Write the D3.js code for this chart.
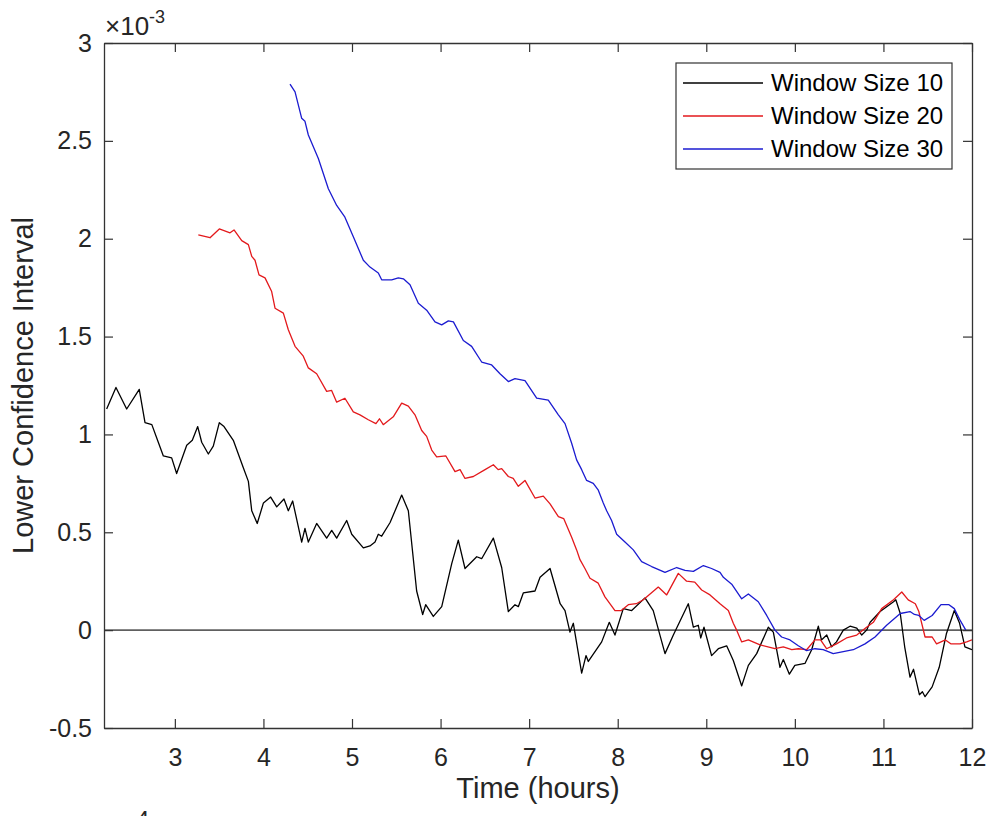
<!DOCTYPE html>
<html>
<head>
<meta charset="utf-8">
<script src="https://cdn.jsdelivr.net/npm/d3@7"></script>
<style>
  body { margin: 0; background: #fff; }
  svg { display: block; font-family: "Liberation Sans", Arial, sans-serif; }
</style>
</head>
<body>
<div id="chart"></div>
<script>
// values are in units of 1e-3 (axis shows x10^-3)
var seriesNames = ["Window Size 10", "Window Size 20", "Window Size 30"]
var seriesColors = ["#000000", "#e3191c", "#1b1bd0"]

var time10 = [2.23,2.335,2.456,2.598,2.663,2.74,2.813,2.87,2.964,3.02,3.134,3.197,3.258,3.303,3.378,3.434,3.502,3.555,3.66,3.773,3.83,3.868,3.93,4.0,4.082,4.15,4.232,4.281,4.33,4.432,4.469,4.507,4.601,4.714,4.771,4.827,4.94,4.997,5.128,5.203,5.26,5.297,5.335,5.43,5.561,5.636,5.73,5.798,5.832,5.918,6.013,6.126,6.2,6.276,6.408,6.464,6.596,6.69,6.765,6.84,6.878,6.934,7.066,7.123,7.236,7.35,7.405,7.461,7.499,7.593,7.642,7.668,7.819,7.905,7.969,8.063,8.158,8.308,8.401,8.534,8.628,8.797,8.854,8.91,8.937,8.974,9.06,9.136,9.23,9.305,9.4,9.475,9.569,9.7,9.757,9.832,9.87,9.938,10.0,10.114,10.19,10.265,10.3,10.36,10.415,10.47,10.547,10.623,10.699,10.755,10.81,10.85,10.963,11.114,11.14,11.19,11.24,11.3,11.34,11.406,11.44,11.47,11.55,11.63,11.71,11.8,11.86,11.92,12.0]
var lower10 = [1.13,1.24,1.13,1.23,1.06,1.05,0.96,0.89,0.88,0.80,0.945,0.97,1.04,0.96,0.90,0.94,1.06,1.04,0.97,0.83,0.76,0.61,0.545,0.65,0.68,0.63,0.67,0.61,0.66,0.45,0.52,0.45,0.545,0.47,0.51,0.47,0.56,0.49,0.42,0.43,0.45,0.49,0.48,0.55,0.69,0.61,0.20,0.08,0.13,0.07,0.12,0.34,0.46,0.315,0.375,0.365,0.47,0.32,0.095,0.13,0.12,0.19,0.20,0.27,0.315,0.135,0.10,-0.01,0.035,-0.22,-0.13,-0.16,-0.06,0.04,-0.025,0.11,0.10,0.165,0.10,-0.12,-0.025,0.135,0.015,0.025,-0.04,0.015,-0.13,-0.095,-0.08,-0.155,-0.285,-0.18,-0.12,0.015,-0.01,-0.19,-0.15,-0.225,-0.18,-0.17,-0.10,0.02,-0.05,-0.025,-0.085,-0.06,0.0,0.02,0.01,-0.025,0.0,0.04,0.095,0.145,0.155,0.085,-0.085,-0.24,-0.20,-0.33,-0.315,-0.34,-0.29,-0.19,-0.02,0.10,0.035,-0.085,-0.10]

var time20 = [3.265,3.397,3.502,3.623,3.668,3.755,3.83,3.868,3.905,3.95,4.018,4.093,4.131,4.225,4.281,4.357,4.45,4.507,4.601,4.714,4.77,4.827,4.92,5.015,5.09,5.184,5.27,5.31,5.353,5.466,5.561,5.636,5.711,5.787,5.843,5.9,5.956,6.06,6.163,6.22,6.276,6.37,6.502,6.596,6.65,6.69,6.765,6.82,6.878,6.953,7.066,7.16,7.236,7.33,7.39,7.48,7.536,7.574,7.63,7.687,7.78,7.856,7.969,8.04,8.12,8.21,8.289,8.458,8.553,8.684,8.778,8.87,8.948,9.042,9.155,9.249,9.305,9.343,9.4,9.475,9.607,9.775,9.87,9.965,10.04,10.133,10.227,10.29,10.358,10.47,10.583,10.699,10.81,10.886,10.98,11.114,11.207,11.28,11.36,11.4,11.47,11.55,11.6,11.7,11.76,11.865,11.94,12.0]
var lower20 = [2.02,2.005,2.05,2.03,2.045,1.99,1.97,1.91,1.89,1.815,1.80,1.73,1.645,1.62,1.535,1.45,1.40,1.34,1.31,1.22,1.225,1.165,1.185,1.115,1.10,1.075,1.055,1.08,1.05,1.09,1.16,1.145,1.10,1.02,0.99,0.92,0.885,0.89,0.81,0.82,0.775,0.785,0.82,0.845,0.82,0.825,0.785,0.775,0.735,0.765,0.675,0.685,0.645,0.58,0.57,0.475,0.41,0.36,0.315,0.265,0.24,0.17,0.10,0.10,0.13,0.135,0.155,0.22,0.18,0.29,0.25,0.245,0.205,0.18,0.135,0.10,0.035,0.0,-0.06,-0.05,-0.075,-0.095,-0.085,-0.10,-0.095,-0.10,-0.05,-0.05,-0.095,-0.07,-0.04,-0.025,0.015,0.04,0.11,0.155,0.195,0.155,0.135,0.095,-0.035,-0.035,-0.07,-0.05,-0.07,-0.07,-0.06,-0.05]

var time30 = [4.3,4.357,4.432,4.469,4.507,4.62,4.733,4.827,4.92,5.015,5.128,5.203,5.297,5.335,5.448,5.523,5.58,5.655,5.749,5.843,5.937,6.013,6.088,6.145,6.257,6.351,6.464,6.577,6.671,6.765,6.84,6.953,7.085,7.216,7.33,7.405,7.48,7.536,7.593,7.649,7.724,7.781,7.837,7.875,7.931,7.988,8.082,8.176,8.27,8.383,8.534,8.666,8.76,8.854,8.967,9.06,9.155,9.193,9.287,9.4,9.475,9.587,9.682,9.775,9.851,9.945,10.039,10.133,10.227,10.32,10.433,10.547,10.66,10.792,10.905,11.036,11.19,11.3,11.35,11.4,11.46,11.55,11.65,11.74,11.8,11.86,11.93]
var lower30 = [2.79,2.75,2.615,2.60,2.53,2.41,2.255,2.17,2.11,2.01,1.89,1.855,1.825,1.79,1.79,1.80,1.795,1.765,1.67,1.635,1.575,1.56,1.58,1.575,1.48,1.45,1.37,1.355,1.31,1.27,1.285,1.275,1.185,1.175,1.10,1.055,0.955,0.87,0.82,0.765,0.75,0.715,0.65,0.61,0.56,0.49,0.45,0.41,0.35,0.325,0.295,0.32,0.305,0.30,0.33,0.315,0.295,0.27,0.235,0.16,0.185,0.145,0.075,0.0,-0.035,-0.05,-0.08,-0.105,-0.095,-0.10,-0.12,-0.11,-0.10,-0.07,-0.035,0.025,0.085,0.095,0.08,0.075,0.05,0.075,0.13,0.13,0.11,0.055,0.0]

var xTicks = [3,4,5,6,7,8,9,10,11,12]
var yTicks = [-0.5,0,0.5,1,1.5,2,2.5,3]
var yTickLabels = ["-0.5","0","0.5","1","1.5","2","2.5","3"]

var width = 993, height = 816
var margin = { top: 43, right: 21, bottom: 88, left: 104 }
var innerW = width - margin.left - margin.right
var innerH = height - margin.top - margin.bottom
var axisColor = "#333333"
var textColor = "#262626"

var series = [
  { name: seriesNames[0], color: seriesColors[0], t: time10, v: lower10 },
  { name: seriesNames[1], color: seriesColors[1], t: time20, v: lower20 },
  { name: seriesNames[2], color: seriesColors[2], t: time30, v: lower30 }
]

var x = d3.scaleLinear().domain([2.2, 12]).range([0, innerW])
var y = d3.scaleLinear().domain([-0.5, 3]).range([innerH, 0])

var svg = d3.select("#chart").append("svg")
  .attr("width", width)
  .attr("height", height)

svg.append("rect").attr("width", width).attr("height", height).attr("fill", "#fff")

var g = svg.append("g")
  .attr("transform", `translate(${margin.left},${margin.top})`)

g.append("clipPath").attr("id", "plot-clip")
  .append("rect").attr("width", innerW).attr("height", innerH)

// zero reference line
g.append("line")
  .attr("x1", 0).attr("x2", innerW)
  .attr("y1", y(0)).attr("y2", y(0))
  .attr("stroke", "#606060")
  .attr("stroke-width", 1.6)

var line = d3.line()
  .x(d => x(d[0]))
  .y(d => y(d[1]))

g.append("g")
  .attr("clip-path", "url(#plot-clip)")
  .selectAll("path")
  .data(series)
  .join("path")
  .attr("d", s => line(d3.zip(s.t, s.v)))
  .attr("fill", "none")
  .attr("stroke", s => s.color)
  .attr("stroke-width", 1.3)
  .attr("stroke-linejoin", "round")

// axes, ticks inward on all four sides (matlab box)
var tickLen = 9
function styleAxis(sel) {
  sel.selectAll("path").attr("stroke", axisColor).attr("stroke-width", 1.3)
  sel.selectAll("line").attr("stroke", axisColor).attr("stroke-width", 1.2)
  sel.selectAll("text").attr("fill", textColor)
}

g.append("g")
  .attr("transform", `translate(0,${innerH})`)
  .call(d3.axisBottom(x).tickValues(xTicks).tickSizeInner(-tickLen).tickSizeOuter(0).tickPadding(20).tickFormat(d3.format("d")))
  .call(styleAxis)
  .style("font-size", "25px")
  .style("font-family", "Liberation Sans, Arial, sans-serif")

g.append("g")
  .call(d3.axisTop(x).tickValues(xTicks).tickSizeInner(-tickLen).tickSizeOuter(0).tickFormat(""))
  .call(styleAxis)

g.append("g")
  .call(d3.axisLeft(y).tickValues(yTicks).tickSizeInner(-tickLen).tickSizeOuter(0).tickPadding(12)
    .tickFormat((d, i) => yTickLabels[i]))
  .call(styleAxis)
  .style("font-size", "25px")
  .style("font-family", "Liberation Sans, Arial, sans-serif")

g.append("g")
  .attr("transform", `translate(${innerW},0)`)
  .call(d3.axisRight(y).tickValues(yTicks).tickSizeInner(-tickLen).tickSizeOuter(0).tickFormat(""))
  .call(styleAxis)

// exponent label
var expo = g.append("text")
  .attr("x", 1).attr("y", -8)
  .attr("fill", textColor)
  .style("font-size", "26px")
expo.append("tspan").text("\u00d710")
expo.append("tspan").attr("dy", -12).style("font-size", "18px").text("-3")

// axis labels
svg.append("text")
  .attr("x", margin.left + innerW / 2)
  .attr("y", 798)
  .attr("text-anchor", "middle")
  .attr("fill", textColor)
  .style("font-size", "29px")
  .text("Time (hours)")

svg.append("text")
  .attr("transform", `translate(33,${margin.top + innerH / 2}) rotate(-90)`)
  .attr("text-anchor", "middle")
  .attr("fill", textColor)
  .style("font-size", "29px")
  .text("Lower Confidence Interval")

// legend
var legend = svg.append("g").attr("transform", "translate(676,63)")
legend.append("rect")
  .attr("width", 276).attr("height", 106)
  .attr("fill", "#fff")
  .attr("stroke", axisColor)
  .attr("stroke-width", 1.2)

var rows = legend.selectAll("g.row")
  .data(series)
  .join("g")
  .attr("class", "row")
  .attr("transform", (d, i) => `translate(0,${20 + i * 33})`)

rows.append("line")
  .attr("x1", 7).attr("x2", 87)
  .attr("stroke", d => d.color)
  .attr("stroke-width", 1.4)

rows.append("text")
  .attr("x", 95)
  .attr("dy", "0.35em")
  .attr("fill", "#000")
  .style("font-size", "24px")
  .text(d => d.name)

// stray superscript from the figure below, cut off by the page edge (as in the source image)
svg.append("text")
  .attr("x", 136).attr("y", 828)
  .attr("fill", textColor)
  .style("font-size", "24px")
  .text("4")
</script>
</body>
</html>
